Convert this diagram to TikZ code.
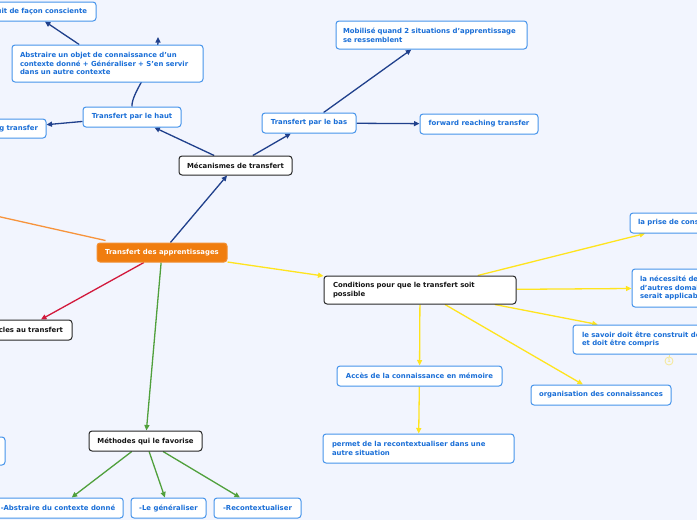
\documentclass[tikz,border=0pt]{standalone}
\usepackage{fontspec}
\setmainfont{DejaVu Sans}
\usetikzlibrary{arrows.meta,calc,backgrounds}
\definecolor{bgc}{RGB}{242,245,254}
\definecolor{bborder}{RGB}{70,148,235}
\definecolor{btext}{RGB}{25,110,215}
\definecolor{kborder}{RGB}{40,40,40}
\definecolor{ktext}{RGB}{20,20,20}
\definecolor{rootfill}{RGB}{240,125,15}
\definecolor{cdblue}{RGB}{32,64,140}
\definecolor{cred}{RGB}{210,25,60}
\definecolor{cgreen}{RGB}{80,160,60}
\definecolor{cyellow}{RGB}{255,228,30}
\definecolor{corange}{RGB}{247,148,60}
\definecolor{badgec}{RGB}{245,232,150}
\begin{document}
\begin{tikzpicture}[x=1pt,y=-1pt,
  base/.style={rounded corners=3pt, fill=white, font=\bfseries\fontsize{6.9}{8.6}\selectfont,
    inner ysep=0pt, inner xsep=8pt, minimum height=20pt},
  bbox/.style={base, draw=bborder, line width=1pt, text=btext},
  kbox/.style={base, draw=kborder, line width=1pt, text=ktext},
  rootbox/.style={base, fill=rootfill, draw=rootfill!85!white, line width=1pt, text=white},
  conn/.style={line width=1.3pt, -{Triangle[length=5.5pt,width=5pt]}},
  dblue/.style={conn, draw=cdblue},
  redc/.style={conn, draw=cred},
  greenc/.style={conn, draw=cgreen},
  yellowc/.style={conn, draw=cyellow},
  orangec/.style={line width=1.3pt, draw=corange}
]
\useasboundingbox (0,0) rectangle (697,520);

% central node
\node[rootbox, minimum width=130pt, minimum height=19pt] (root) at (162,252.5) {Transfert des apprentissages};

% Mecanismes branch
\node[kbox, minimum width=113pt, minimum height=19pt] (meca) at (235.5,165.5) {Mécanismes de transfert};
\node[bbox, minimum width=98pt] (haut) at (132,117) {Transfert par le haut};
\node[bbox, text width=175pt, align=left, minimum height=37pt] (abs) at (107.5,63.5)
  {\mbox{Abstraire un objet de connaissance d'un}\\\mbox{contexte donné + Généraliser + S'en servir}\\\mbox{dans un autre contexte}};
\node[bbox, text width=114pt, inner xsep=9pt, align=right, minimum height=19pt] (cons) at (30,11.5) {\mbox{uit de façon consciente}};
\node[bbox, text width=68pt, align=right, minimum height=19pt] (gtr) at (4,128.5) {\mbox{g transfer}};
\node[bbox, minimum width=94pt] (bas) at (309,123) {Transfert par le bas};
\node[bbox, text width=177pt, inner xsep=7pt, align=left, minimum height=28pt] (mob) at (431.5,35)
  {\mbox{Mobilisé quand 2 situations d'apprentissage}\\\mbox{se ressemblent}};
\node[bbox, minimum width=118pt] (fwd) at (479,124) {forward reaching transfer};

% Obstacles branch
\node[kbox, text width=82pt, inner xsep=9pt, align=right] (obst) at (22,330) {\mbox{cles au transfert}};
\node[bbox, minimum width=65pt, minimum height=28pt] (hid) at (-27.5,451) {};

% Methodes branch
\node[kbox, minimum width=113pt] (meth) at (145.5,441) {Méthodes qui le favorise};
\node[bbox, minimum width=128pt] (abs2) at (58,508) {-Abstraire du contexte donné};
\node[bbox, minimum width=75pt] (gen) at (168.5,508) {-Le généraliser};
\node[bbox, minimum width=87pt] (rec) at (257.5,508) {-Recontextualiser};

% Conditions branch
\node[kbox, text width=174pt, inner xsep=9pt, align=left, minimum height=28pt] (cond) at (420,290)
  {\mbox{Conditions pour que le transfert soit}\\\mbox{possible}};
\node[bbox, text width=98pt, align=left] (prise) at (687,223) {\mbox{la prise de cons}};
\node[bbox, text width=120pt, align=left, minimum height=38pt] (nec) at (700,288)
  {\mbox{la nécessité de}\\\mbox{d'autres domai}\\\mbox{serait applicab}};
\node[bbox, text width=186pt, inner xsep=9pt, align=left, minimum height=29pt] (sav) at (675,339.5)
  {\mbox{le savoir doit être construit de}\\\mbox{et doit être compris}};
\node[circle, draw=badgec, line width=0.8pt, text=badgec, font=\bfseries\fontsize{5}{5}\selectfont,
  inner sep=0pt, minimum size=8pt] (badge) at (669,361) {1};
\node[bbox, minimum width=165pt] (acc) at (419.5,376) {Accès de la connaissance en mémoire};
\node[bbox, minimum width=140pt] (org) at (601,395) {organisation des connaissances};
\node[bbox, text width=173pt, inner xsep=9pt, align=left, minimum height=29pt] (perm) at (418.5,448.5)
  {\mbox{permet de la recontextualiser dans une}\\\mbox{autre situation}};

\coordinate (orng) at (-60,203.4);
\coordinate (abstip) at (158,37);

\begin{pgfonlayer}{background}
\fill[bgc] (0,0) rectangle (697,520);
% Mecanismes
\draw[dblue] (root) -- (meca);
\draw[dblue] (meca) -- (haut);
\draw[dblue] (meca) -- (bas);
\draw[dblue] (haut) -- (gtr);
\draw[dblue] (haut.north) .. controls (131,92) and (158,62) .. (abstip);
\draw[dblue] (abs) -- (cons);
\draw[dblue] (bas) -- (mob);
\draw[dblue] (bas) -- (fwd);
% Obstacles
\draw[redc] (root) -- (obst);
% Orange
\draw[orangec] ($(root.north west)+(9,-2)$) -- (orng);
% Methodes
\draw[greenc] (root) -- (meth);
\draw[greenc] (meth) -- (abs2);
\draw[greenc] (meth) -- (gen);
\draw[greenc] (meth) -- (rec);
% Conditions
\draw[yellowc] (root) -- (cond);
\draw[yellowc] (cond) -- (prise);
\draw[yellowc] (cond) -- (nec);
\draw[yellowc] (cond) -- (sav);
\draw[yellowc] (cond) -- (org);
\draw[yellowc] (cond) -- (acc);
\draw[yellowc] (acc) -- (perm);
\draw[badgec, line width=0.8pt] (sav.south -| badge.north) -- (badge.north);
\end{pgfonlayer}
\end{tikzpicture}
\end{document}
